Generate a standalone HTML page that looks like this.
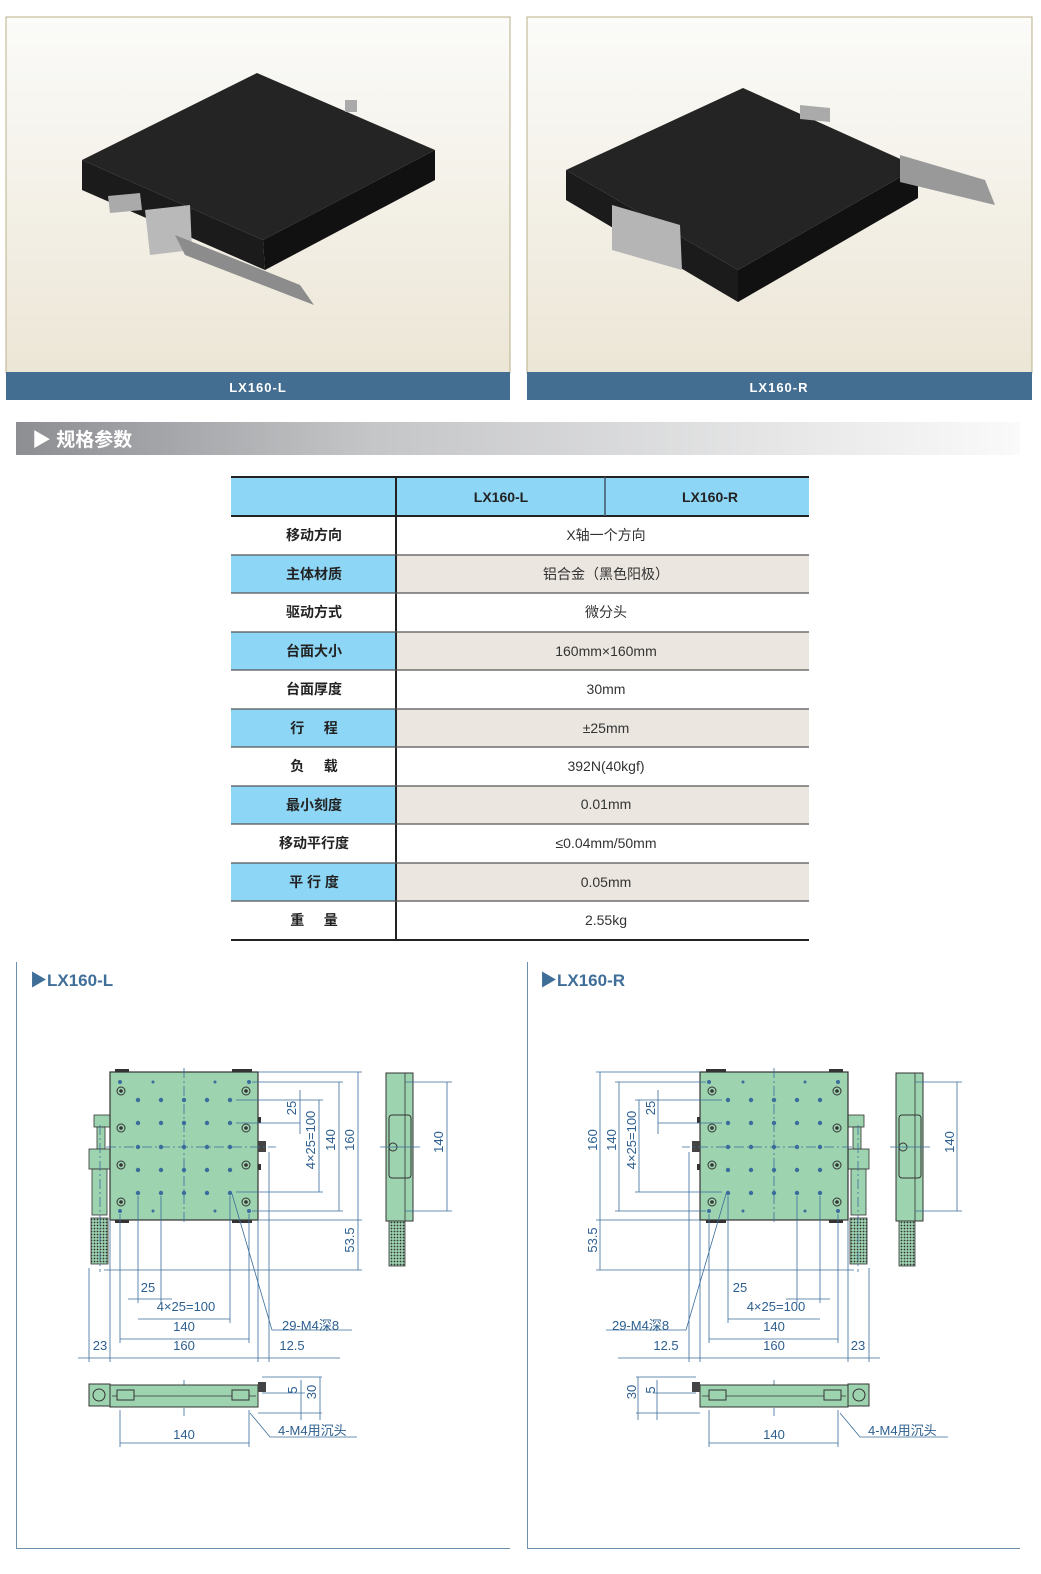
<!DOCTYPE html>
<html style="overflow:hidden"><head><meta charset="utf-8">
<style>
html,body{margin:0;padding:0;overflow:hidden}
body{background:#fff;width:1041px;height:1574px;position:relative;font-family:"Liberation Sans","Noto Sans CJK SC",sans-serif}
.abs{position:absolute}
</style></head><body>
<svg class="abs" style="left:0;top:0;display:block" width="1041" height="1574" viewBox="0 0 1041 1574" xmlns="http://www.w3.org/2000/svg" font-family="Liberation Sans, Noto Sans CJK SC, sans-serif">
<defs>
<linearGradient id="bg" x1="0" y1="0" x2="0" y2="1"><stop offset="0" stop-color="#fbfbf9"/><stop offset="1" stop-color="#ece6d6"/></linearGradient>
<linearGradient id="hd" x1="0" y1="0" x2="1" y2="0"><stop offset="0" stop-color="#8d8e92"/><stop offset="0.35" stop-color="#c4c5c7"/><stop offset="1" stop-color="#fafafa"/></linearGradient>
<pattern id="kn" width="3" height="3" patternUnits="userSpaceOnUse"><rect width="3" height="3" fill="#9ed3b0"/><circle cx="1.5" cy="1.5" r="0.9" fill="#333"/></pattern>
</defs>
<!-- photos -->
<rect x="6" y="17" width="504" height="356" fill="url(#bg)" stroke="#b8b08a"/>
<rect x="6" y="372" width="504" height="28" fill="#436d91"/>
<text x="258" y="392" font-size="13" font-weight="bold" fill="#fff" text-anchor="middle" letter-spacing="1">LX160-L</text>
<rect x="527" y="17" width="505" height="356" fill="url(#bg)" stroke="#b8b08a"/>
<rect x="527" y="372" width="505" height="28" fill="#436d91"/>
<text x="779" y="392" font-size="13" font-weight="bold" fill="#fff" text-anchor="middle" letter-spacing="1">LX160-R</text>
<!-- left block -->
<polygon points="82,160 263,240 265,270 82,190" fill="#1b1b1b"/>
<polygon points="263,240 435,150 435,180 265,270" fill="#111"/>
<polygon points="257,73 435,150 263,240 82,160" fill="#242424"/>
<polygon points="108,196 140,193 142,210 110,213" fill="#aaa"/>
<polygon points="145,210 190,205 192,250 150,255" fill="#b9b9b9"/>
<polygon points="175,235 300,285 314,305 185,255" fill="#8c8c8c"/>
<rect x="345" y="100" width="12" height="12" fill="#aaa"/>
<!-- right block -->
<polygon points="566,170 738,270 738,302 566,200" fill="#1b1b1b"/>
<polygon points="738,270 918,167 918,198 738,302" fill="#111"/>
<polygon points="743,88 918,167 738,270 566,170" fill="#242424"/>
<polygon points="612,205 680,225 682,270 612,250" fill="#b5b5b5"/>
<polygon points="800,105 830,108 830,122 800,119" fill="#aaa"/>
<polygon points="900,155 985,180 995,205 900,182" fill="#999"/>
<!-- section header -->
<rect x="16" y="422" width="1004" height="33" fill="url(#hd)"/>
<text x="32" y="446" font-size="19" font-weight="bold" fill="#fff">▶ 规格参数</text>
<!-- table -->
<rect x="231" y="477" width="578" height="39" fill="#8dd6f6"/>
<g fill="#8dd6f6"><rect x="231" y="555" width="165" height="38"/><rect x="231" y="632" width="165" height="38"/><rect x="231" y="709" width="165" height="38"/><rect x="231" y="786" width="165" height="38"/><rect x="231" y="863" width="165" height="38"/></g>
<g fill="#ebe7e0"><rect x="397" y="555" width="412" height="38"/><rect x="397" y="632" width="412" height="38"/><rect x="397" y="709" width="412" height="38"/><rect x="397" y="786" width="412" height="38"/><rect x="397" y="863" width="412" height="38"/></g>
<g stroke="#222" stroke-width="2"><line x1="231" y1="477" x2="809" y2="477"/><line x1="231" y1="516" x2="809" y2="516"/><line x1="231" y1="940" x2="809" y2="940"/><line x1="396" y1="477" x2="396" y2="940"/></g>
<line x1="605" y1="477" x2="605" y2="516" stroke="#456" stroke-width="1.5"/>
<g stroke="#555" stroke-width="1.2"><line x1="231" y1="555" x2="809" y2="555"/><line x1="231" y1="593" x2="809" y2="593"/><line x1="231" y1="632" x2="809" y2="632"/><line x1="231" y1="670" x2="809" y2="670"/><line x1="231" y1="709" x2="809" y2="709"/><line x1="231" y1="747" x2="809" y2="747"/><line x1="231" y1="786" x2="809" y2="786"/><line x1="231" y1="824" x2="809" y2="824"/><line x1="231" y1="863" x2="809" y2="863"/><line x1="231" y1="901" x2="809" y2="901"/></g>
<g font-size="14" font-weight="bold" fill="#222" text-anchor="middle">
<text x="501" y="502">LX160-L</text><text x="710" y="502">LX160-R</text>
<text x="314" y="540">移动方向</text><text x="314" y="579">主体材质</text><text x="314" y="617">驱动方式</text><text x="314" y="656">台面大小</text><text x="314" y="694">台面厚度</text><text x="314" y="733" xml:space="preserve">行     程</text><text x="314" y="771" xml:space="preserve">负     载</text><text x="314" y="810">最小刻度</text><text x="314" y="848">移动平行度</text><text x="314" y="887">平 行 度</text><text x="314" y="925" xml:space="preserve">重     量</text>
</g>
<g font-size="14" fill="#333" text-anchor="middle">
<text x="606" y="540">X轴一个方向</text><text x="606" y="579">铝合金（黑色阳极）</text><text x="606" y="617">微分头</text><text x="606" y="656">160mm×160mm</text><text x="606" y="694">30mm</text><text x="606" y="733">±25mm</text><text x="606" y="771">392N(40kgf)</text><text x="606" y="809">0.01mm</text><text x="606" y="848">≤0.04mm/50mm</text><text x="606" y="887">0.05mm</text><text x="606" y="925">2.55kg</text>
</g>
<!-- drawing frames -->
<g stroke="#6d8fb0" stroke-width="1"><line x1="16.5" y1="962" x2="16.5" y2="1548"/><line x1="16" y1="1548.5" x2="510" y2="1548.5"/><line x1="527.5" y1="962" x2="527.5" y2="1548"/><line x1="527" y1="1548.5" x2="1020" y2="1548.5"/></g>
<text x="30" y="986" font-size="17" font-weight="bold" fill="#3f6e99">▶LX160-L</text>
<text x="540" y="986" font-size="17" font-weight="bold" fill="#3f6e99">▶LX160-R</text>

<g id="plan">
<rect x="94" y="1115" width="16" height="12" fill="#9ed3b0" stroke="#333" stroke-width="0.8"/>
<rect x="97" y="1127" width="8" height="22" fill="#9ed3b0" stroke="#333" stroke-width="0.8"/>
<rect x="89" y="1149" width="21" height="20" fill="#9ed3b0" stroke="#333" stroke-width="0.8"/>
<rect x="92" y="1169" width="15" height="46" fill="#9ed3b0" stroke="#333" stroke-width="0.8"/>
<rect x="91" y="1218" width="17" height="46" fill="url(#kn)" stroke="#333" stroke-width="0.8"/>
<rect x="110" y="1072" width="148" height="148" fill="#9ed3b0" stroke="#333" stroke-width="1.2"/>
<g fill="#333"><rect x="115" y="1069" width="14" height="3"/><rect x="232" y="1069" width="20" height="3"/><rect x="115" y="1220" width="14" height="3"/><rect x="232" y="1220" width="20" height="3"/><rect x="258" y="1117" width="3" height="6"/><rect x="258" y="1164" width="3" height="6"/></g>
<rect x="258" y="1141" width="8" height="11" fill="#444"/>
<g fill="none" stroke="#333" stroke-width="1"><circle cx="121" cy="1091" r="4"/><circle cx="121" cy="1128" r="4"/><circle cx="121" cy="1165" r="4"/><circle cx="121" cy="1202" r="4"/><circle cx="246" cy="1091" r="4"/><circle cx="246" cy="1128" r="4"/><circle cx="246" cy="1165" r="4"/><circle cx="246" cy="1202" r="4"/></g>
<g fill="#333"><circle cx="121" cy="1091" r="1.8"/><circle cx="121" cy="1128" r="1.8"/><circle cx="121" cy="1165" r="1.8"/><circle cx="121" cy="1202" r="1.8"/><circle cx="246" cy="1091" r="1.8"/><circle cx="246" cy="1128" r="1.8"/><circle cx="246" cy="1165" r="1.8"/><circle cx="246" cy="1202" r="1.8"/></g>
<g fill="#3a6d9c">
<circle cx="120" cy="1082" r="2"/><circle cx="153" cy="1082" r="1.5"/><circle cx="215" cy="1082" r="1.5"/><circle cx="249" cy="1082" r="2"/>
<circle cx="120" cy="1211" r="2"/><circle cx="153" cy="1211" r="1.5"/><circle cx="215" cy="1211" r="1.5"/><circle cx="249" cy="1211" r="2"/>
<g id="row"><circle cx="138" cy="1100" r="2.2"/><circle cx="161" cy="1100" r="2.2"/><circle cx="184" cy="1100" r="2.2"/><circle cx="207" cy="1100" r="2.2"/><circle cx="230" cy="1100" r="2.2"/></g>
<use href="#row" y="23"/><use href="#row" y="47"/><use href="#row" y="70"/><use href="#row" y="93"/>
</g>
<g stroke="#3a6d9c" stroke-width="0.8" fill="none">
<line x1="184" y1="1068" x2="184" y2="1224" stroke-dasharray="10,3,2,3"/>
<line x1="106" y1="1147" x2="276" y2="1147" stroke-dasharray="10,3,2,3"/>
<line x1="100" y1="1125" x2="100" y2="1272" stroke-dasharray="10,3,2,3"/>
<line x1="258" y1="1072" x2="362" y2="1072"/><line x1="252" y1="1082" x2="343" y2="1082"/><line x1="236" y1="1100" x2="323" y2="1100"/><line x1="236" y1="1123" x2="300" y2="1123"/><line x1="236" y1="1192" x2="323" y2="1192"/><line x1="252" y1="1211" x2="343" y2="1211"/><line x1="258" y1="1220" x2="362" y2="1220"/><line x1="104" y1="1270" x2="362" y2="1270"/>
<line x1="300" y1="1090" x2="300" y2="1134"/><line x1="319" y1="1100" x2="319" y2="1192"/><line x1="339" y1="1082" x2="339" y2="1211"/><line x1="358" y1="1072" x2="358" y2="1270"/>
<line x1="138" y1="1196" x2="138" y2="1303"/><line x1="161" y1="1196" x2="161" y2="1303"/><line x1="230" y1="1196" x2="230" y2="1323"/><line x1="120" y1="1214" x2="120" y2="1343"/><line x1="249" y1="1214" x2="249" y2="1343"/><line x1="110" y1="1220" x2="110" y2="1362"/><line x1="258" y1="1220" x2="258" y2="1362"/><line x1="269" y1="1152" x2="269" y2="1362"/><line x1="89" y1="1268" x2="89" y2="1362"/>
<line x1="128" y1="1299" x2="172" y2="1299"/><line x1="138" y1="1319" x2="230" y2="1319"/><line x1="120" y1="1339" x2="249" y2="1339"/><line x1="78" y1="1358" x2="340" y2="1358"/>
<polyline points="232,1194 272,1330 352,1330"/>
<line x1="262" y1="1377" x2="322" y2="1377"/><line x1="262" y1="1393" x2="305" y2="1393"/><line x1="258" y1="1413" x2="322" y2="1413"/>
<line x1="301" y1="1380" x2="301" y2="1420"/><line x1="320" y1="1377" x2="320" y2="1420"/>
<line x1="120" y1="1410" x2="120" y2="1447"/><line x1="249" y1="1410" x2="249" y2="1447"/><line x1="120" y1="1443" x2="249" y2="1443"/>
<line x1="184" y1="1380" x2="184" y2="1418" stroke-dasharray="8,2,2,2"/>
</g>
<rect x="89" y="1384" width="21" height="22" fill="#9ed3b0" stroke="#333"/>
<circle cx="99" cy="1395" r="6" fill="none" stroke="#333"/>
<rect x="110" y="1385" width="148" height="22" fill="#9ed3b0" stroke="#333"/>
<line x1="112" y1="1396" x2="256" y2="1396" stroke="#333" stroke-width="0.8"/>
<rect x="117" y="1390" width="17" height="10" fill="#9ed3b0" stroke="#333"/>
<rect x="232" y="1390" width="17" height="10" fill="#9ed3b0" stroke="#333"/>
<rect x="258" y="1382" width="8" height="10" fill="#444"/>
</g>

<g id="side">
<rect x="386" y="1073" width="27" height="148" fill="#9ed3b0" stroke="#333"/>
<line x1="405" y1="1073" x2="405" y2="1221" stroke="#333" stroke-width="0.8"/>
<rect x="389" y="1115" width="22" height="63" rx="3" fill="none" stroke="#333"/>
<circle cx="393" cy="1147" r="4" fill="none" stroke="#333"/>
<rect x="389" y="1221" width="16" height="45" fill="url(#kn)" stroke="#333" stroke-width="0.8"/>
<g stroke="#3a6d9c" stroke-width="0.8"><line x1="380" y1="1147" x2="420" y2="1147"/><line x1="405" y1="1082" x2="452" y2="1082"/><line x1="405" y1="1211" x2="452" y2="1211"/><line x1="447" y1="1082" x2="447" y2="1211"/></g>
</g>
<use href="#plan" transform="translate(958,0) scale(-1,1)"/>
<use href="#side" transform="translate(510,0)"/>
<g stroke="#3a6d9c" stroke-width="0.8" fill="none">
<polyline points="250,1413 270,1437 357,1437"/>
<polyline points="840,1413 860,1437 948,1437"/>
</g>

<g font-size="13" fill="#2d5f8f">
<text x="148" y="1292" text-anchor="middle">25</text><text x="186" y="1311" text-anchor="middle">4×25=100</text><text x="184" y="1331" text-anchor="middle">140</text><text x="184" y="1350" text-anchor="middle">160</text><text x="100" y="1350" text-anchor="middle">23</text><text x="292" y="1350" text-anchor="middle">12.5</text><text x="282" y="1330">29-M4深8</text>
<text x="184" y="1439" text-anchor="middle">140</text><text x="278" y="1435">4-M4用沉头</text>
<text transform="translate(296,1108) rotate(-90)" text-anchor="middle">25</text>
<text transform="translate(315,1140) rotate(-90)" text-anchor="middle">4×25=100</text>
<text transform="translate(335,1140) rotate(-90)" text-anchor="middle">140</text>
<text transform="translate(354,1140) rotate(-90)" text-anchor="middle">160</text>
<text transform="translate(354,1240) rotate(-90)" text-anchor="middle">53.5</text>
<text transform="translate(297,1390) rotate(-90)" text-anchor="middle">5</text>
<text transform="translate(316,1392) rotate(-90)" text-anchor="middle">30</text>
<text transform="translate(443,1142) rotate(-90)" text-anchor="middle">140</text>

<text x="740" y="1292" text-anchor="middle">25</text><text x="776" y="1311" text-anchor="middle">4×25=100</text><text x="774" y="1331" text-anchor="middle">140</text><text x="774" y="1350" text-anchor="middle">160</text><text x="858" y="1350" text-anchor="middle">23</text><text x="666" y="1350" text-anchor="middle">12.5</text><text x="612" y="1330">29-M4深8</text>
<text x="774" y="1439" text-anchor="middle">140</text><text x="868" y="1435">4-M4用沉头</text>
<text transform="translate(655,1108) rotate(-90)" text-anchor="middle">25</text>
<text transform="translate(636,1140) rotate(-90)" text-anchor="middle">4×25=100</text>
<text transform="translate(616,1140) rotate(-90)" text-anchor="middle">140</text>
<text transform="translate(597,1140) rotate(-90)" text-anchor="middle">160</text>
<text transform="translate(597,1240) rotate(-90)" text-anchor="middle">53.5</text>
<text transform="translate(655,1390) rotate(-90)" text-anchor="middle">5</text>
<text transform="translate(636,1392) rotate(-90)" text-anchor="middle">30</text>
<text transform="translate(954,1142) rotate(-90)" text-anchor="middle">140</text>
</g>
</svg>
</body></html>
